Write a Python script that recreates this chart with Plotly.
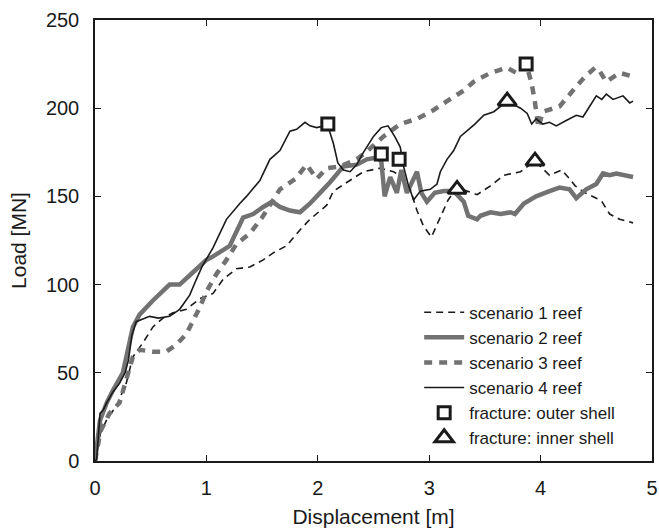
import plotly.graph_objects as go

# Load-displacement curves for four grounding scenarios (displacement in m, load in MN)
s1_disp = [0, 0.05, 0.11, 0.19, 0.28, 0.34, 0.43, 0.52, 0.61, 0.70, 0.82, 0.94, 1.06, 1.15,
           1.27, 1.39, 1.51, 1.60, 1.72, 1.84, 1.93, 2.08, 2.14, 2.29, 2.41, 2.56, 2.68, 2.78,
           2.83, 2.89, 2.95, 3.02, 3.10, 3.17, 3.25, 3.43, 3.55, 3.67, 3.82, 3.95, 4.08, 4.19,
           4.26, 4.31, 4.40, 4.50, 4.55, 4.62, 4.71, 4.83]
s1_load = [0, 16, 24, 31, 44, 59, 67, 76, 81, 84, 86, 92, 95, 103,
           109, 110, 114, 118, 122, 131, 137, 145, 153, 159, 164, 166, 164, 160,
           154, 142, 133, 127, 138, 148, 155, 151, 156, 162, 164, 170, 162, 165,
           160, 156, 152, 149, 147, 140, 137, 135]

s2_disp = [0, 0.045, 0.105, 0.16, 0.25, 0.285, 0.34, 0.40, 0.52, 0.67, 0.76, 0.88, 1.0, 1.06,
           1.21, 1.33, 1.42, 1.51, 1.59, 1.66, 1.75, 1.84, 1.93, 2.02, 2.11, 2.23, 2.35, 2.44,
           2.53, 2.57, 2.60, 2.65, 2.71, 2.75, 2.80, 2.89, 2.93, 2.98, 3.05, 3.13, 3.22, 3.31,
           3.35, 3.43, 3.46, 3.55, 3.64, 3.73, 3.77, 3.85, 3.96, 4.08, 4.17, 4.26, 4.32, 4.41,
           4.50, 4.56, 4.62, 4.68, 4.77, 4.83]
s2_load = [0, 23, 33, 40, 50, 61, 76, 83, 91, 100, 100, 107, 114, 116,
           122, 138, 140, 144, 147, 144, 142, 141, 146, 152, 158, 167, 168, 171,
           172, 170, 150, 161, 152, 165, 152, 164, 152, 147, 152, 153, 153, 147,
           139, 137, 139, 141, 140, 141, 140, 146, 150, 153, 155, 154, 149, 154,
           157, 163, 162, 163, 162, 161]

s3_disp = [0, 0.05, 0.13, 0.22, 0.28, 0.34, 0.40, 0.52, 0.64, 0.73, 0.82, 0.88, 0.94, 1.0,
           1.09, 1.18, 1.27, 1.39, 1.50, 1.66, 1.80, 1.90, 1.99, 2.08, 2.20, 2.35, 2.45, 2.59,
           2.74, 2.89, 3.04, 3.16, 3.31, 3.40, 3.55, 3.70, 3.78, 3.87, 3.92, 3.95, 3.98, 4.02,
           4.17, 4.29, 4.40, 4.49, 4.53, 4.59, 4.71, 4.83]
s3_load = [0, 17, 27, 33, 46, 59, 63, 62, 62, 66, 72, 79, 87, 96,
           106, 114, 123, 129, 138, 154, 160, 168, 160, 166, 167, 171, 176, 184,
           191, 194, 199, 204, 210, 215, 220, 223, 220, 225, 214, 203, 189, 198,
           201, 210, 218, 223, 221, 215, 220, 218]

s4_disp = [0, 0.015, 0.045, 0.075, 0.105, 0.16, 0.22, 0.27, 0.30, 0.33, 0.37, 0.49, 0.57, 0.67,
           0.76, 0.85, 0.91, 0.96, 1.06, 1.18, 1.30, 1.36, 1.48, 1.57, 1.66, 1.75, 1.81, 1.885,
           1.93, 1.99, 2.065, 2.085, 2.14, 2.18, 2.23, 2.29, 2.35, 2.41, 2.50, 2.57, 2.63, 2.69,
           2.74, 2.77, 2.81, 2.86, 2.92, 3.01, 3.07, 3.10, 3.16, 3.22, 3.28, 3.34, 3.41, 3.49,
           3.58, 3.70, 3.82, 3.88, 3.92, 3.96, 4.02, 4.08, 4.14, 4.23, 4.32, 4.38, 4.44, 4.50,
           4.55, 4.59, 4.65, 4.74, 4.80, 4.83]
s4_load = [0, 1, 27, 29, 33, 39, 44, 50, 57, 71, 79, 82, 81, 82,
           86, 94, 103, 110, 121, 137, 146, 150, 159, 171, 176, 187, 188, 192,
           190, 189, 190, 191, 180, 169, 165, 164, 168, 175, 184, 189, 190, 184,
           178, 167, 157, 148, 153, 154, 157, 164, 171, 176, 184, 187, 191, 196,
           198, 204, 200, 197, 191, 194, 191, 192, 190, 193, 196, 195, 201, 207,
           205, 208, 205, 207, 203, 204]

# Fracture events
outer_disp = [2.09, 2.57, 2.73, 3.87]
outer_load = [191, 174, 171, 225]
inner_disp = [3.25, 3.70, 3.95]
inner_load = [154, 204, 170]

x_ticks = [0, 1, 2, 3, 4, 5]
y_ticks = [0, 50, 100, 150, 200, 250]

BLACK = "#1a1a1a"
GRAY = "#727272"
FONT = "Arial, Liberation Sans, sans-serif"

fig = go.Figure()
fig.add_trace(go.Scatter(x=s1_disp, y=s1_load, mode="lines", name="scenario 1 reef",
                         line=dict(color=BLACK, width=1.6, dash="7px,5px")))
fig.add_trace(go.Scatter(x=s2_disp, y=s2_load, mode="lines", name="scenario 2 reef",
                         line=dict(color=GRAY, width=4.5)))
fig.add_trace(go.Scatter(x=s3_disp, y=s3_load, mode="lines", name="scenario 3 reef",
                         line=dict(color=GRAY, width=4.5, dash="8px,7px")))
fig.add_trace(go.Scatter(x=s4_disp, y=s4_load, mode="lines", name="scenario 4 reef",
                         line=dict(color=BLACK, width=1.6)))
fig.add_trace(go.Scatter(x=outer_disp, y=outer_load, mode="markers", name="fracture: outer shell",
                         marker=dict(symbol="square", size=12, color="white",
                                     line=dict(color=BLACK, width=3))))
fig.add_trace(go.Scatter(x=inner_disp, y=inner_load, mode="markers", name="fracture: inner shell",
                         marker=dict(symbol="triangle-up", size=16, color="white",
                                     line=dict(color=BLACK, width=3))))

axis_common = dict(showline=True, linecolor=BLACK, linewidth=1.5, mirror="ticks",
                   ticks="inside", ticklen=6, tickwidth=1.3, tickcolor=BLACK,
                   showgrid=False, zeroline=False, automargin=False,
                   tickfont=dict(family=FONT, size=20, color=BLACK))

fig.update_xaxes(range=[0, 5], tickvals=x_ticks, ticklabelstandoff=8,
                 title=dict(text="Displacement [m]", font=dict(family=FONT, size=21, color=BLACK),
                            standoff=13),
                 **axis_common)
fig.update_yaxes(range=[0, 250], tickvals=y_ticks, ticklabelstandoff=10,
                 title=dict(text="Load [MN]", font=dict(family=FONT, size=21, color=BLACK),
                            standoff=14),
                 **axis_common)

fig.update_layout(
    width=659, height=528,
    margin=dict(l=95, r=7, t=20, b=67),
    plot_bgcolor="white", paper_bgcolor="white",
    font=dict(family=FONT, color=BLACK),
    legend=dict(x=0.582, y=0.012, xanchor="left", yanchor="bottom",
                bgcolor="rgba(0,0,0,0)", font=dict(family=FONT, size=17, color=BLACK),
                tracegroupgap=0, itemwidth=40),
    showlegend=True,
)

fig.write_html("out.html")
